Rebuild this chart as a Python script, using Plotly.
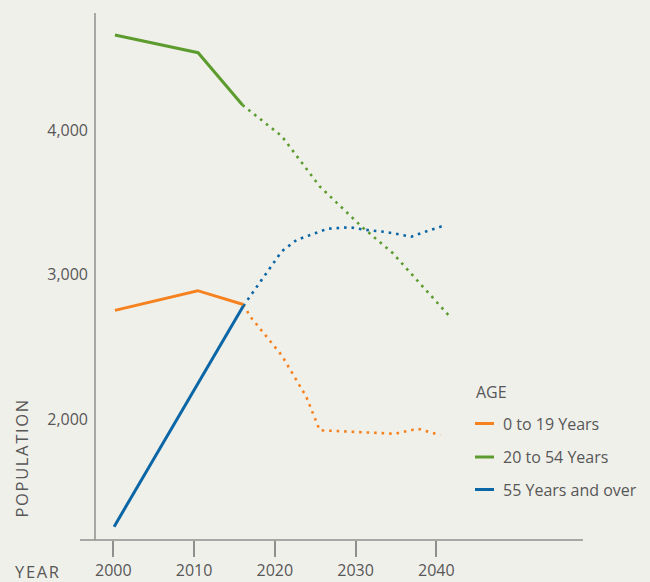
import plotly.graph_objects as go

# ---------------- data ----------------
series_names = ["0 to 19 Years", "20 to 54 Years", "55 Years and over"]
series_colors = ["#f5821f", "#5c9c2e", "#0b66a6"]

# historical (solid)
orange_hist_years = [2000.2, 2010.45, 2016.1]
orange_hist_vals = [2752, 2888, 2792]
green_hist_years = [2000.2, 2010.5, 2016.0]
green_hist_vals = [4657, 4535, 4173]
blue_hist_years = [2000.1, 2016.1]
blue_hist_vals = [1255, 2782]

# projections (dotted)
orange_proj_years = [2016.1, 2017.0, 2020.85, 2023.9, 2025.56, 2028.9, 2032.0, 2034.9, 2037.7, 2040.5]
orange_proj_vals = [2792, 2706, 2441, 2154, 1922, 1915, 1908, 1898, 1933, 1889]
green_proj_years = [2016.0, 2017.1, 2020.85, 2025.56, 2029.2, 2030.76, 2034.55, 2037.8, 2041.6]
green_proj_vals = [4173, 4124, 3958, 3610, 3410, 3331, 3151, 2946, 2713]
blue_proj_years = [2016.1, 2018.7, 2020.85, 2022.7, 2024.57, 2026.55, 2029.35, 2031.1, 2033.8, 2036.9, 2038.8, 2040.7]
blue_proj_vals = [2782, 2988, 3160, 3239, 3278, 3317, 3327, 3310, 3294, 3262, 3299, 3334]

x_tick_vals = [2000, 2010, 2020, 2030, 2040]
x_tick_text = ["2000", "2010", "2020", "2030", "2040"]
y_tick_vals = [2000, 3000, 4000]
y_tick_text = ["2,000", "3,000", "4,000"]

legend_title = "AGE"
x_title = "YEAR"
y_title = "POPULATION"

# ---------------- figure ----------------
BG = "#f0f0eb"
TXT = "#575757"
AX = "#8f8f8f"
FONT = "Open Sans"

hist = [(orange_hist_years, orange_hist_vals), (green_hist_years, green_hist_vals), (blue_hist_years, blue_hist_vals)]
proj = [(orange_proj_years, orange_proj_vals), (green_proj_years, green_proj_vals), (blue_proj_years, blue_proj_vals)]

fig = go.Figure()
for name, color, (hx, hy), (px, py) in zip(series_names, series_colors, hist, proj):
    fig.add_trace(go.Scatter(x=px, y=py, mode="lines", name=name + " (projected)",
                             line=dict(color=color, width=2.6, dash="2.6px,4.9px"),
                             showlegend=False))
for name, color, (hx, hy), (px, py) in zip(series_names, series_colors, hist, proj):
    fig.add_trace(go.Scatter(x=hx, y=hy, mode="lines", name=name,
                             line=dict(color=color, width=3),
                             showlegend=False))

# plot area in pixels: left 95, right 583, top 13, bottom 540
W, H = 650, 582
L, R, T, B = 95, 583, 13, 540
pw, ph = R - L, B - T

def px_x(p):
    return (p - L) / pw

def px_y(p):
    return (B - p) / ph

shapes = [
    dict(type="line", xref="paper", yref="paper", x0=0, x1=0, y0=0, y1=1,
         line=dict(color=AX, width=1.5)),
    dict(type="line", xref="paper", yref="paper", x0=px_x(80), x1=1, y0=0, y1=0,
         line=dict(color=AX, width=1.5)),
]
annotations = []

# manual legend
leg_rows = [423.5, 457, 489.5]
for name, color, yy in zip(series_names, series_colors, leg_rows):
    shapes.append(dict(type="line", xref="paper", yref="paper",
                       x0=px_x(475), x1=px_x(494), y0=px_y(yy), y1=px_y(yy),
                       line=dict(color=color, width=3)))
    annotations.append(dict(text=name, xref="paper", yref="paper", x=px_x(501), y=px_y(yy),
                            xanchor="left", yanchor="middle", showarrow=False,
                            font=dict(family=FONT, size=16, color=TXT)))
annotations.append(dict(text=legend_title, xref="paper", yref="paper", x=px_x(473.5), y=px_y(391.5),
                        xanchor="left", yanchor="middle", showarrow=False,
                        font=dict(family=FONT, size=16, color=TXT)))

hs = "\u200a"
annotations.append(dict(text=hs.join(x_title), xref="paper", yref="paper", x=px_x(12.5), y=px_y(571),
                        xanchor="left", yanchor="middle", showarrow=False,
                        font=dict(family=FONT, size=16.5, color=TXT)))
annotations.append(dict(text=hs.join(y_title), xref="paper", yref="paper", x=px_x(21), y=px_y(458.5),
                        xanchor="center", yanchor="middle", showarrow=False, textangle=-90,
                        font=dict(family=FONT, size=16.5, color=TXT)))

x0_val = 2000 + (L - 113.3) / 8.075
x1_val = 2040 + (R - 436.3) / 8.075
y0_val = 2000 - (B - 419) / 0.1445
y1_val = 2000 + (419 - T) / 0.1445

fig.update_layout(
    width=W, height=H,
    margin=dict(l=L, r=W - R, t=T, b=H - B, pad=0, autoexpand=False),
    paper_bgcolor=BG, plot_bgcolor=BG,
    font=dict(family=FONT, size=16, color=TXT),
    showlegend=False,
    shapes=shapes,
    annotations=annotations,
    xaxis=dict(range=[x0_val, x1_val], tickvals=x_tick_vals, ticktext=x_tick_text,
               ticks="outside", ticklen=16, tickwidth=1.5, tickcolor=AX,
               showgrid=False, zeroline=False, showline=False, automargin=False,
               tickfont=dict(family=FONT, size=16, color=TXT), fixedrange=True),
    yaxis=dict(range=[y0_val, y1_val], tickvals=y_tick_vals, ticktext=y_tick_text,
               ticks="", showgrid=False, zeroline=False, showline=False, automargin=False,
               ticklabelstandoff=6,
               tickfont=dict(family=FONT, size=16, color=TXT), fixedrange=True),
)

fig.write_html(
    "out.html",
    config={"displayModeBar": False},
    post_script="document.body.style.margin='0';document.body.style.background='%s';" % BG,
)
